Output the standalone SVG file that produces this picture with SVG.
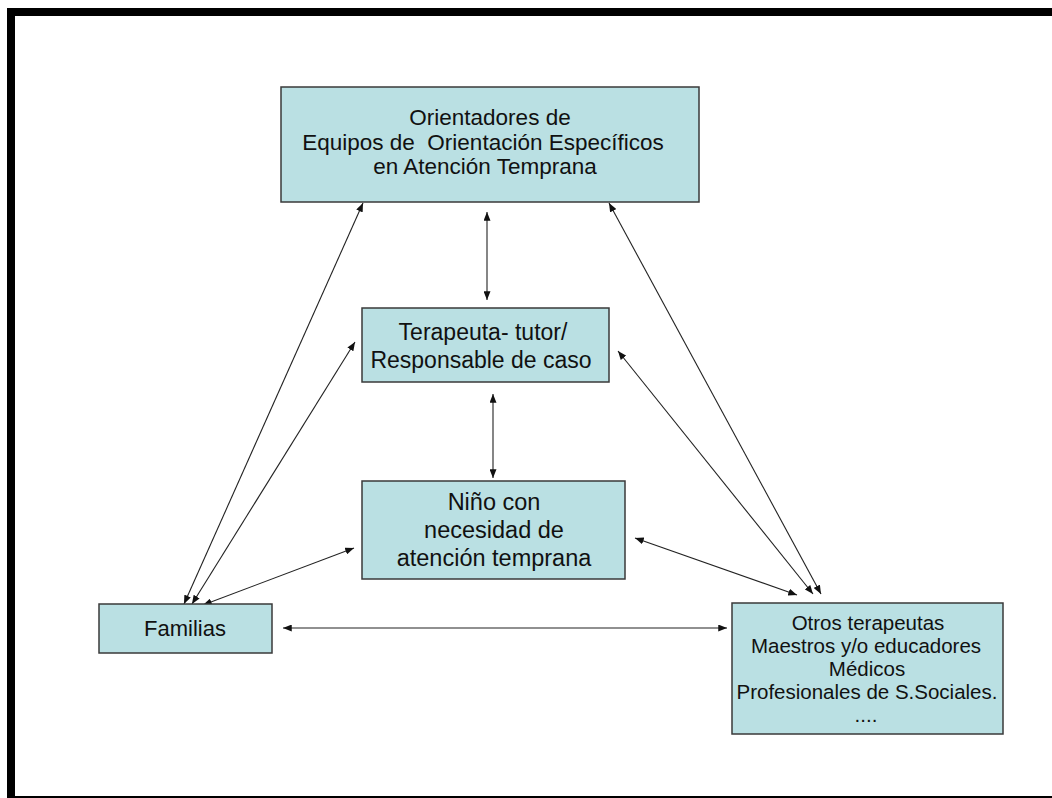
<svg xmlns="http://www.w3.org/2000/svg" width="1052" height="798" viewBox="0 0 1052 798">
  <style>
    .box { fill: #BAE0E3; stroke: #3a3a3a; stroke-width: 1.5; }
    .lbl { font-family: "Liberation Sans", Arial, sans-serif; fill: #111; text-anchor: middle; }
    .t1 { font-size: 22.5px; }
    .t2 { font-size: 23px; }
    .t3 { font-size: 23.5px; }
    .t4 { font-size: 22px; }
    .t5 { font-size: 20.5px; }
    .link { stroke: #222; stroke-width: 1.1; fill: none; marker-start: url(#head); marker-end: url(#head); }
  </style>
  <defs>
    <marker id="head" viewBox="0 0 10 8" refX="10" refY="4" markerWidth="9" markerHeight="7" markerUnits="userSpaceOnUse" orient="auto-start-reverse">
      <path d="M0,0 L10,4 L0,8 z" fill="#111"/>
    </marker>
  </defs>

  <rect width="1052" height="798" fill="#ffffff"/>
  <!-- heavy slide frame -->
  <rect x="11" y="12" width="1100" height="788" fill="none" stroke="#000" stroke-width="8"/>

  <g id="connectors">
    <line class="link" x1="487" y1="212" x2="487" y2="300"/>
    <line class="link" x1="493" y1="394" x2="493" y2="478"/>
    <line class="link" x1="184" y1="604" x2="363" y2="203"/>
    <line class="link" x1="192" y1="604" x2="355" y2="342"/>
    <line class="link" x1="203" y1="605" x2="354" y2="548"/>
    <line class="link" x1="283" y1="628" x2="727" y2="628"/>
    <line class="link" x1="821" y1="594" x2="609" y2="203"/>
    <line class="link" x1="813" y1="594" x2="618" y2="351"/>
    <line class="link" x1="797" y1="595" x2="635" y2="538"/>
  </g>

  <g id="orientadores">
    <rect class="box" x="281" y="87" width="418" height="115"/>
    <text class="lbl t1" x="490" y="125">Orientadores de</text>
    <text class="lbl t1" x="483" y="150" xml:space="preserve">Equipos de  Orientación Específicos</text>
    <text class="lbl t1" x="485" y="174">en Atención Temprana</text>
  </g>

  <g id="terapeuta">
    <rect class="box" x="362" y="308" width="247" height="74"/>
    <text class="lbl t2" x="483" y="340">Terapeuta- tutor/</text>
    <text class="lbl t2" x="481" y="368">Responsable de caso</text>
  </g>

  <g id="nino">
    <rect class="box" x="362" y="481" width="263" height="98"/>
    <text class="lbl t3" x="494" y="510">Niño con</text>
    <text class="lbl t3" x="494" y="538">necesidad de</text>
    <text class="lbl t3" x="494" y="566">atención temprana</text>
  </g>

  <g id="familias">
    <rect class="box" x="99" y="604" width="173" height="49"/>
    <text class="lbl t4" x="185" y="636">Familias</text>
  </g>

  <g id="otros">
    <rect class="box" x="732" y="603" width="271" height="131"/>
    <text class="lbl t5" x="868" y="630">Otros terapeutas</text>
    <text class="lbl t5" x="866" y="653">Maestros y/o educadores</text>
    <text class="lbl t5" x="867" y="676">Médicos</text>
    <text class="lbl t5" x="867" y="699">Profesionales de S.Sociales.</text>
    <text class="lbl t5" x="866" y="722">....</text>
  </g>
</svg>
